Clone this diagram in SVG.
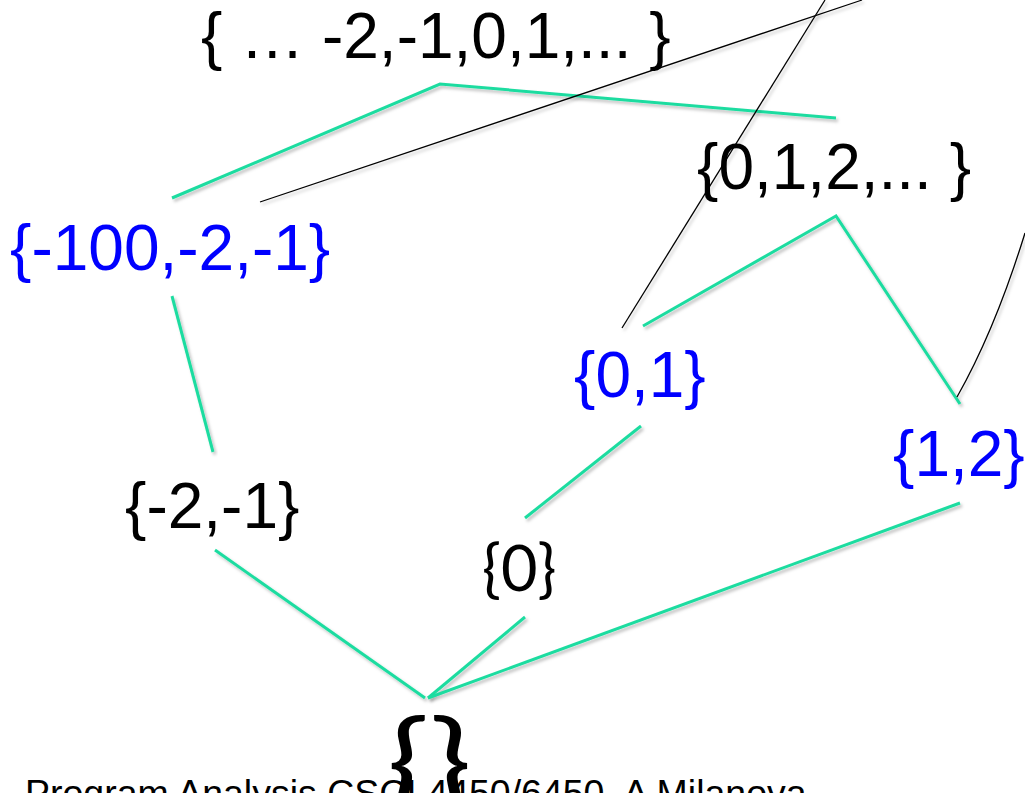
<svg xmlns="http://www.w3.org/2000/svg" width="1025" height="793" viewBox="0 0 1025 793">
<defs>
<filter id="sh" x="-10%" y="-10%" width="120%" height="120%">
<feDropShadow dx="2" dy="2.5" stdDeviation="1.5" flood-color="#000" flood-opacity="0.25"/>
</filter>
</defs>
<style>
.g{fill:none;stroke:#1EDCA0;stroke-width:3;stroke-linejoin:miter;filter:url(#sh)}
.k{fill:none;stroke:#000;stroke-width:1.3;filter:url(#sh)}
.a{font-family:"Liberation Sans",Arial,sans-serif;font-size:64px;fill:#000}
.b{fill:#0000FF}
.c{font-family:Lato,"Open Sans",sans-serif;fill:#000}
.f{font-family:"Liberation Sans",Arial,sans-serif;font-size:37.5px;fill:#000}
</style>
<rect width="1025" height="793" fill="#fff"/>
<g id="connectors">
<polyline class="g" points="172,198 440,84 836,118"/>
<line class="g" x1="172" y1="296" x2="213" y2="452"/>
<line class="g" x1="215" y1="550" x2="425" y2="698"/>
<line class="g" x1="525" y1="617" x2="428" y2="698"/>
<line class="g" x1="960" y1="503" x2="428" y2="698"/>
<line class="g" x1="525" y1="518" x2="641" y2="426"/>
<polyline class="g" points="643,326 836,216 960,404"/>
<line class="k" x1="260" y1="202" x2="862" y2="0"/>
<line class="k" x1="622" y1="328" x2="825" y2="0"/>
<path class="k" d="M957,397 Q995,330 1025,233"/>
</g>
<g id="top"><text class="a" x="201" y="58">{ … -2,-1,0,1,... }</text></g>
<g id="n_neg100"><text class="a b" x="10" y="270">{-100,-2,-1}</text></g>
<g id="n_nat"><text class="a" x="697" y="189">{0,1,2,... }</text></g>
<g id="n_01"><text class="a b" x="574" y="397">{0,1}</text></g>
<g id="n_12"><text class="a b" x="893" y="476">{1,2}</text></g>
<g id="n_neg21"><text class="a" x="125" y="528">{-2,-1}</text></g>
<g id="n_0"><text class="c" x="482" y="591" font-size="63">{0}</text></g>
<g id="bottom"><text class="c" x="0" y="0" font-size="110" transform="translate(387,800) scale(1.28,1)">{}</text></g>
<g id="footer"><text class="f" x="25" y="806">Program Analysis CSCI 4450/6450, A Milanova</text></g>
</svg>
